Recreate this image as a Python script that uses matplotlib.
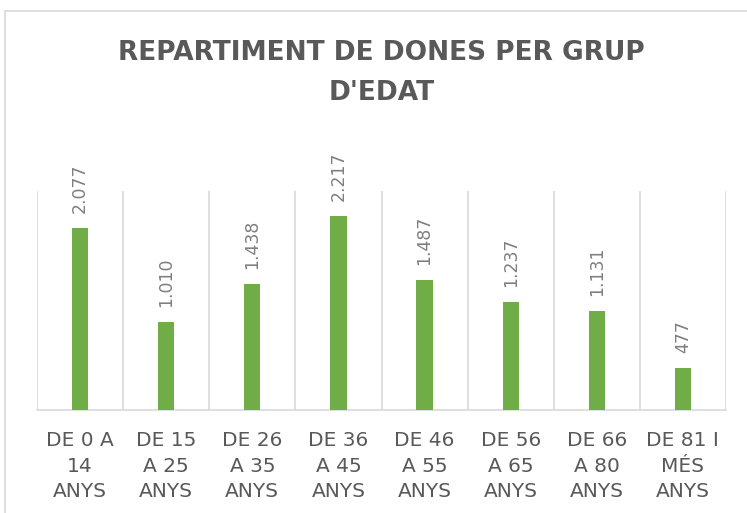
import matplotlib.pyplot as plt
from matplotlib.patches import Rectangle

# Data
categories = ['DE 0 A\n14\nANYS', 'DE 15\nA 25\nANYS', 'DE 26\nA 35\nANYS', 'DE 36\nA 45\nANYS',
              'DE 46\nA 55\nANYS', 'DE 56\nA 65\nANYS', 'DE 66\nA 80\nANYS', 'DE 81 I\nMÉS\nANYS']
values = [2077, 1010, 1438, 2217, 1487, 1237, 1131, 477]
title = "REPARTIMENT DE DONES PER GRUP\nD'EDAT"

W, H = 747, 513
fig = plt.figure(figsize=(W / 100, H / 100), dpi=100)
fig.patch.set_facecolor('white')

# outer chart border (cut off at right/bottom)
fig.patches.append(Rectangle((5 / W, -0.05), 1.1, 1 - 11 / H + 0.05, transform=fig.transFigure,
                             fill=False, edgecolor='#d9d9d9', linewidth=1.2))

ax = fig.add_axes([37 / W, (H - 410) / H, (726 - 37) / W, (410 - 191) / H])
x = list(range(len(values)))
ax.bar(x, values, width=0.19, color='#70ad47', zorder=3)
ax.set_xlim(-0.5, len(values) - 0.5)
ax.set_ylim(0, 2500)

# vertical separators between categories
for b in range(len(values) + 1):
    ax.axvline(b - 0.5, color='#d9d9d9', linewidth=1.2, zorder=1)

for s in ['top', 'left', 'right']:
    ax.spines[s].set_visible(False)
ax.spines['bottom'].set_color('#d9d9d9')
ax.spines['bottom'].set_linewidth(1.2)
ax.set_yticks([])
ax.set_xticks(x)
ax.set_xticklabels(categories, fontsize=14.5, color='#595959', linespacing=1.45)
ax.tick_params(axis='x', length=0, pad=15)

# value labels
for xi, v in zip(x, values):
    lbl = f'{v:,}'.replace(',', '.')
    ax.annotate(lbl, (xi, v), xytext=(0, 15), textcoords='offset pixels',
                rotation=90, ha='center', va='bottom', fontsize=12.5, color='#7f7f7f',
                annotation_clip=False)

fig.text(0.5 * (37 + 726) / W, (H - 73) / H, title, ha='center', va='center',
         fontsize=19, fontweight='bold', color='#595959', linespacing=1.7)

fig.savefig('out.png', dpi=100)
